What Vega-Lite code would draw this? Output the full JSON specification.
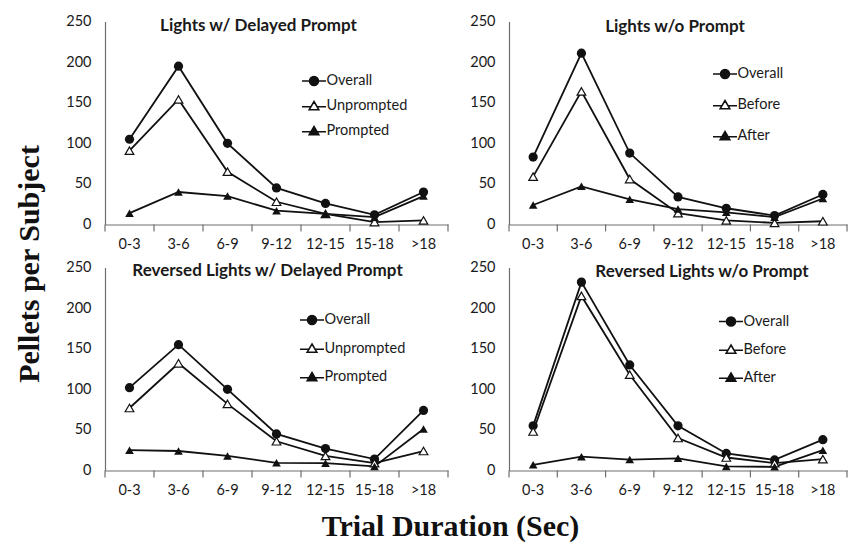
{
  "$schema": "https://vega.github.io/schema/vega-lite/v6.json",
  "padding": {"left": 14, "top": 13.5, "right": 0, "bottom": 0},
  "background": "white",
  "config": {
    "font": "Lato",
    "view": {"stroke": null},
    "title": {"font": "Lato", "fontSize": 17, "fontWeight": "bold", "anchor": "middle", "offset": 0, "baseline": "middle", "color": "#1a1a1a", "frame": "group"},
    "axis": {"labelFont": "Lato", "labelFontSize": 14.5, "labelColor": "#1a1a1a", "domainColor": "#6e6e6e", "tickColor": "#6e6e6e", "grid": false, "domainWidth": 1.2},
    "axisX": {"ticks": false, "labelAngle": 0, "labelPadding": 13},
    "axisY": {"ticks": false, "labelPadding": 14, "values": [0, 50, 100, 150, 200, 250]},
    "legend": {"labelFont": "Lato", "labelFontSize": 14.5, "labelColor": "#1a1a1a"}
  },
  "spacing": {"column": 61, "row": 43},
  "bounds": "flush",
  "data": {"name": "d"},
  "datasets": {
    "d": [
      {"panel": "TL", "series": "Overall", "dur": "0-3", "value": 105},
      {"panel": "TL", "series": "Overall", "dur": "3-6", "value": 195},
      {"panel": "TL", "series": "Overall", "dur": "6-9", "value": 100},
      {"panel": "TL", "series": "Overall", "dur": "9-12", "value": 45},
      {"panel": "TL", "series": "Overall", "dur": "12-15", "value": 26},
      {"panel": "TL", "series": "Overall", "dur": "15-18", "value": 12},
      {"panel": "TL", "series": "Overall", "dur": ">18", "value": 40},
      {"panel": "TL", "series": "Unprompted", "dur": "0-3", "value": 91},
      {"panel": "TL", "series": "Unprompted", "dur": "3-6", "value": 154},
      {"panel": "TL", "series": "Unprompted", "dur": "6-9", "value": 65},
      {"panel": "TL", "series": "Unprompted", "dur": "9-12", "value": 28},
      {"panel": "TL", "series": "Unprompted", "dur": "12-15", "value": 13},
      {"panel": "TL", "series": "Unprompted", "dur": "15-18", "value": 3},
      {"panel": "TL", "series": "Unprompted", "dur": ">18", "value": 5},
      {"panel": "TL", "series": "Prompted", "dur": "0-3", "value": 14},
      {"panel": "TL", "series": "Prompted", "dur": "3-6", "value": 40},
      {"panel": "TL", "series": "Prompted", "dur": "6-9", "value": 35},
      {"panel": "TL", "series": "Prompted", "dur": "9-12", "value": 17},
      {"panel": "TL", "series": "Prompted", "dur": "12-15", "value": 13},
      {"panel": "TL", "series": "Prompted", "dur": "15-18", "value": 9},
      {"panel": "TL", "series": "Prompted", "dur": ">18", "value": 35},
      {"panel": "TR", "series": "Overall", "dur": "0-3", "value": 83},
      {"panel": "TR", "series": "Overall", "dur": "3-6", "value": 211},
      {"panel": "TR", "series": "Overall", "dur": "6-9", "value": 88},
      {"panel": "TR", "series": "Overall", "dur": "9-12", "value": 34},
      {"panel": "TR", "series": "Overall", "dur": "12-15", "value": 20},
      {"panel": "TR", "series": "Overall", "dur": "15-18", "value": 11},
      {"panel": "TR", "series": "Overall", "dur": ">18", "value": 37},
      {"panel": "TR", "series": "Before", "dur": "0-3", "value": 59},
      {"panel": "TR", "series": "Before", "dur": "3-6", "value": 164},
      {"panel": "TR", "series": "Before", "dur": "6-9", "value": 56},
      {"panel": "TR", "series": "Before", "dur": "9-12", "value": 14},
      {"panel": "TR", "series": "Before", "dur": "12-15", "value": 5},
      {"panel": "TR", "series": "Before", "dur": "15-18", "value": 2},
      {"panel": "TR", "series": "Before", "dur": ">18", "value": 4},
      {"panel": "TR", "series": "After", "dur": "0-3", "value": 24},
      {"panel": "TR", "series": "After", "dur": "3-6", "value": 47},
      {"panel": "TR", "series": "After", "dur": "6-9", "value": 31},
      {"panel": "TR", "series": "After", "dur": "9-12", "value": 19},
      {"panel": "TR", "series": "After", "dur": "12-15", "value": 15},
      {"panel": "TR", "series": "After", "dur": "15-18", "value": 9},
      {"panel": "TR", "series": "After", "dur": ">18", "value": 32},
      {"panel": "BL", "series": "Overall", "dur": "0-3", "value": 102},
      {"panel": "BL", "series": "Overall", "dur": "3-6", "value": 155},
      {"panel": "BL", "series": "Overall", "dur": "6-9", "value": 100},
      {"panel": "BL", "series": "Overall", "dur": "9-12", "value": 45},
      {"panel": "BL", "series": "Overall", "dur": "12-15", "value": 27},
      {"panel": "BL", "series": "Overall", "dur": "15-18", "value": 14},
      {"panel": "BL", "series": "Overall", "dur": ">18", "value": 74},
      {"panel": "BL", "series": "Unprompted", "dur": "0-3", "value": 77},
      {"panel": "BL", "series": "Unprompted", "dur": "3-6", "value": 132},
      {"panel": "BL", "series": "Unprompted", "dur": "6-9", "value": 82},
      {"panel": "BL", "series": "Unprompted", "dur": "9-12", "value": 36},
      {"panel": "BL", "series": "Unprompted", "dur": "12-15", "value": 18},
      {"panel": "BL", "series": "Unprompted", "dur": "15-18", "value": 9},
      {"panel": "BL", "series": "Unprompted", "dur": ">18", "value": 24},
      {"panel": "BL", "series": "Prompted", "dur": "0-3", "value": 25},
      {"panel": "BL", "series": "Prompted", "dur": "3-6", "value": 24},
      {"panel": "BL", "series": "Prompted", "dur": "6-9", "value": 18},
      {"panel": "BL", "series": "Prompted", "dur": "9-12", "value": 9.5},
      {"panel": "BL", "series": "Prompted", "dur": "12-15", "value": 9},
      {"panel": "BL", "series": "Prompted", "dur": "15-18", "value": 5},
      {"panel": "BL", "series": "Prompted", "dur": ">18", "value": 51},
      {"panel": "BR", "series": "Overall", "dur": "0-3", "value": 55},
      {"panel": "BR", "series": "Overall", "dur": "3-6", "value": 232},
      {"panel": "BR", "series": "Overall", "dur": "6-9", "value": 130},
      {"panel": "BR", "series": "Overall", "dur": "9-12", "value": 55},
      {"panel": "BR", "series": "Overall", "dur": "12-15", "value": 21},
      {"panel": "BR", "series": "Overall", "dur": "15-18", "value": 13},
      {"panel": "BR", "series": "Overall", "dur": ">18", "value": 38},
      {"panel": "BR", "series": "Before", "dur": "0-3", "value": 48},
      {"panel": "BR", "series": "Before", "dur": "3-6", "value": 215},
      {"panel": "BR", "series": "Before", "dur": "6-9", "value": 118},
      {"panel": "BR", "series": "Before", "dur": "9-12", "value": 40},
      {"panel": "BR", "series": "Before", "dur": "12-15", "value": 16},
      {"panel": "BR", "series": "Before", "dur": "15-18", "value": 9},
      {"panel": "BR", "series": "Before", "dur": ">18", "value": 14},
      {"panel": "BR", "series": "After", "dur": "0-3", "value": 7},
      {"panel": "BR", "series": "After", "dur": "3-6", "value": 17},
      {"panel": "BR", "series": "After", "dur": "6-9", "value": 13.5},
      {"panel": "BR", "series": "After", "dur": "9-12", "value": 15},
      {"panel": "BR", "series": "After", "dur": "12-15", "value": 5},
      {"panel": "BR", "series": "After", "dur": "15-18", "value": 4.5},
      {"panel": "BR", "series": "After", "dur": ">18", "value": 25}
    ]
  },
  "columns": 2,
  "resolve": {
    "scale": {"shape": "independent", "fill": "independent", "stroke": "independent"},
    "legend": {"shape": "independent", "fill": "independent", "stroke": "independent"}
  },
  "concat": [
    {
      "width": 343, "height": 203,
      "title": {"text": "Lights w/ Delayed Prompt", "dx": -18, "dy": 25.5},
      "transform": [{"filter": "datum.panel === 'TL'"}],
      "encoding": {
        "x": {"field": "dur", "type": "ordinal", "sort": ["0-3", "3-6", "6-9", "9-12", "12-15", "15-18", ">18"], "scale": {"type": "band", "paddingInner": 0, "paddingOuter": 0}, "axis": {"title": null}},
        "y": {"field": "value", "type": "quantitative", "scale": {"domain": [0, 250], "nice": false}, "axis": {"title": "Pellets per Subject", "titleFont": "Liberation Serif", "titleFontSize": 30, "titleFontWeight": "bold", "titleColor": "#111", "titleAngle": -90, "titleAlign": "center", "titleBaseline": "middle", "titleX": -76, "titleY": 242}}
      },
      "layer": [
        {"transform": [{"filter": "datum.series === 'Overall'"}], "mark": {"type": "rule", "color": "#6e6e6e", "strokeWidth": 1.2}, "encoding": {"x": {"field": "dur", "type": "ordinal", "sort": ["0-3", "3-6", "6-9", "9-12", "12-15", "15-18", ">18"], "bandPosition": 0}, "y": {"datum": 0}, "y2": {"datum": -8.5}}},
        {"transform": [{"filter": "datum.series === 'Overall' && datum.dur === '>18'"}], "mark": {"type": "rule", "color": "#6e6e6e", "strokeWidth": 1.2}, "encoding": {"x": {"field": "dur", "type": "ordinal", "sort": ["0-3", "3-6", "6-9", "9-12", "12-15", "15-18", ">18"], "bandPosition": 1}, "y": {"datum": 0}, "y2": {"datum": -8.5}}},
        {"mark": {"type": "line", "color": "#111", "strokeWidth": 1.8}, "encoding": {"detail": {"field": "series"}}},
        {"transform": [{"filter": "datum.series === 'Overall'"}], "mark": {"type": "point", "shape": "circle", "filled": true, "color": "#111", "size": 85, "opacity": 1}},
        {"transform": [{"filter": "datum.series === 'Unprompted' || datum.series === 'Before'"}], "mark": {"type": "point", "shape": "triangle-up", "fill": "white", "stroke": "#111", "strokeWidth": 1.2, "size": 75, "opacity": 1}},
        {"transform": [{"filter": "datum.series === 'Prompted' || datum.series === 'After'"}], "mark": {"type": "point", "shape": "triangle-up", "filled": true, "color": "#111", "size": 75, "opacity": 1}},
        {"mark": {"type": "point", "opacity": 0, "filled": false, "strokeWidth": 1.5},
         "encoding": {
           "shape": {"field": "series", "type": "nominal", "scale": {"domain": ["Overall", "Unprompted", "Prompted"], "range": ["M-1.6,0H-0.6M0.6,0H1.6M0.6,0A0.6,0.6,0,1,1,-0.6,0A0.6,0.6,0,1,1,0.6,0Z", "M-1.6,0.1H-0.41M0.41,0.1H1.6M0,-0.6L0.65,0.5L-0.65,0.5Z", "M-1.6,0.1H-0.41M0.41,0.1H1.6M0,-0.6L0.65,0.5L-0.65,0.5Z"]}, "legend": {"orient": "none", "legendX": 200.5, "legendY": 51, "title": null, "symbolSize": 225, "symbolStrokeWidth": 1.5, "symbolOpacity": 1, "labelOffset": 4, "rowPadding": 9, "padding": 0}},
           "fill": {"field": "series", "type": "nominal", "scale": {"domain": ["Overall", "Unprompted", "Prompted"], "range": ["#111", "white", "#111"]}, "legend": {"orient": "none", "legendX": 200.5, "legendY": 51, "title": null, "symbolSize": 225, "symbolStrokeWidth": 1.5, "symbolOpacity": 1, "labelOffset": 4, "rowPadding": 9, "padding": 0}},
           "stroke": {"field": "series", "type": "nominal", "scale": {"domain": ["Overall", "Unprompted", "Prompted"], "range": ["#111", "#111", "#111"]}, "legend": {"orient": "none", "legendX": 200.5, "legendY": 51, "title": null, "symbolSize": 225, "symbolStrokeWidth": 1.5, "symbolOpacity": 1, "labelOffset": 4, "rowPadding": 9, "padding": 0}}
         }}
      ]
    },
    {
      "width": 338, "height": 203,
      "title": {"text": "Lights w/o Prompt", "dx": -3, "dy": 26.5},
      "transform": [{"filter": "datum.panel === 'TR'"}],
      "encoding": {
        "x": {"field": "dur", "type": "ordinal", "sort": ["0-3", "3-6", "6-9", "9-12", "12-15", "15-18", ">18"], "scale": {"type": "band", "paddingInner": 0, "paddingOuter": 0}, "axis": {"title": null}},
        "y": {"field": "value", "type": "quantitative", "scale": {"domain": [0, 250], "nice": false}, "axis": {"title": null}}
      },
      "layer": [
        {"transform": [{"filter": "datum.series === 'Overall'"}], "mark": {"type": "rule", "color": "#6e6e6e", "strokeWidth": 1.2}, "encoding": {"x": {"field": "dur", "type": "ordinal", "sort": ["0-3", "3-6", "6-9", "9-12", "12-15", "15-18", ">18"], "bandPosition": 0}, "y": {"datum": 0}, "y2": {"datum": -8.5}}},
        {"transform": [{"filter": "datum.series === 'Overall' && datum.dur === '>18'"}], "mark": {"type": "rule", "color": "#6e6e6e", "strokeWidth": 1.2}, "encoding": {"x": {"field": "dur", "type": "ordinal", "sort": ["0-3", "3-6", "6-9", "9-12", "12-15", "15-18", ">18"], "bandPosition": 1}, "y": {"datum": 0}, "y2": {"datum": -8.5}}},
        {"mark": {"type": "line", "color": "#111", "strokeWidth": 1.8}, "encoding": {"detail": {"field": "series"}}},
        {"transform": [{"filter": "datum.series === 'Overall'"}], "mark": {"type": "point", "shape": "circle", "filled": true, "color": "#111", "size": 85, "opacity": 1}},
        {"transform": [{"filter": "datum.series === 'Unprompted' || datum.series === 'Before'"}], "mark": {"type": "point", "shape": "triangle-up", "fill": "white", "stroke": "#111", "strokeWidth": 1.2, "size": 75, "opacity": 1}},
        {"transform": [{"filter": "datum.series === 'Prompted' || datum.series === 'After'"}], "mark": {"type": "point", "shape": "triangle-up", "filled": true, "color": "#111", "size": 75, "opacity": 1}},
        {"mark": {"type": "point", "opacity": 0, "filled": false, "strokeWidth": 1.5},
         "encoding": {
           "shape": {"field": "series", "type": "nominal", "scale": {"domain": ["Overall", "Before", "After"], "range": ["M-1.6,0H-0.6M0.6,0H1.6M0.6,0A0.6,0.6,0,1,1,-0.6,0A0.6,0.6,0,1,1,0.6,0Z", "M-1.6,0.1H-0.41M0.41,0.1H1.6M0,-0.6L0.65,0.5L-0.65,0.5Z", "M-1.6,0.1H-0.41M0.41,0.1H1.6M0,-0.6L0.65,0.5L-0.65,0.5Z"]}, "legend": {"orient": "none", "legendX": 207.5, "legendY": 44, "title": null, "symbolSize": 225, "symbolStrokeWidth": 1.5, "symbolOpacity": 1, "labelOffset": 4, "rowPadding": 15, "padding": 0}},
           "fill": {"field": "series", "type": "nominal", "scale": {"domain": ["Overall", "Before", "After"], "range": ["#111", "white", "#111"]}, "legend": {"orient": "none", "legendX": 207.5, "legendY": 44, "title": null, "symbolSize": 225, "symbolStrokeWidth": 1.5, "symbolOpacity": 1, "labelOffset": 4, "rowPadding": 15, "padding": 0}},
           "stroke": {"field": "series", "type": "nominal", "scale": {"domain": ["Overall", "Before", "After"], "range": ["#111", "#111", "#111"]}, "legend": {"orient": "none", "legendX": 207.5, "legendY": 44, "title": null, "symbolSize": 225, "symbolStrokeWidth": 1.5, "symbolOpacity": 1, "labelOffset": 4, "rowPadding": 15, "padding": 0}}
         }}
      ]
    },
    {
      "width": 343, "height": 203,
      "title": {"text": "Reversed Lights w/ Delayed Prompt", "dx": -9, "dy": 24},
      "transform": [{"filter": "datum.panel === 'BL'"}],
      "encoding": {
        "x": {"field": "dur", "type": "ordinal", "sort": ["0-3", "3-6", "6-9", "9-12", "12-15", "15-18", ">18"], "scale": {"type": "band", "paddingInner": 0, "paddingOuter": 0}, "axis": {"title": "Trial Duration (Sec)", "titleFont": "Liberation Serif", "titleFontSize": 30, "titleFontWeight": "bold", "titleColor": "#111", "titleAlign": "center", "titleBaseline": "middle", "titleX": 345, "titleY": 56}},
        "y": {"field": "value", "type": "quantitative", "scale": {"domain": [0, 250], "nice": false}, "axis": {"title": null}}
      },
      "layer": [
        {"transform": [{"filter": "datum.series === 'Overall'"}], "mark": {"type": "rule", "color": "#6e6e6e", "strokeWidth": 1.2}, "encoding": {"x": {"field": "dur", "type": "ordinal", "sort": ["0-3", "3-6", "6-9", "9-12", "12-15", "15-18", ">18"], "bandPosition": 0}, "y": {"datum": 0}, "y2": {"datum": -8.5}}},
        {"transform": [{"filter": "datum.series === 'Overall' && datum.dur === '>18'"}], "mark": {"type": "rule", "color": "#6e6e6e", "strokeWidth": 1.2}, "encoding": {"x": {"field": "dur", "type": "ordinal", "sort": ["0-3", "3-6", "6-9", "9-12", "12-15", "15-18", ">18"], "bandPosition": 1}, "y": {"datum": 0}, "y2": {"datum": -8.5}}},
        {"mark": {"type": "line", "color": "#111", "strokeWidth": 1.8}, "encoding": {"detail": {"field": "series"}}},
        {"transform": [{"filter": "datum.series === 'Overall'"}], "mark": {"type": "point", "shape": "circle", "filled": true, "color": "#111", "size": 85, "opacity": 1}},
        {"transform": [{"filter": "datum.series === 'Unprompted' || datum.series === 'Before'"}], "mark": {"type": "point", "shape": "triangle-up", "fill": "white", "stroke": "#111", "strokeWidth": 1.2, "size": 75, "opacity": 1}},
        {"transform": [{"filter": "datum.series === 'Prompted' || datum.series === 'After'"}], "mark": {"type": "point", "shape": "triangle-up", "filled": true, "color": "#111", "size": 75, "opacity": 1}},
        {"mark": {"type": "point", "opacity": 0, "filled": false, "strokeWidth": 1.5},
         "encoding": {
           "shape": {"field": "series", "type": "nominal", "scale": {"domain": ["Overall", "Unprompted", "Prompted"], "range": ["M-1.6,0H-0.6M0.6,0H1.6M0.6,0A0.6,0.6,0,1,1,-0.6,0A0.6,0.6,0,1,1,0.6,0Z", "M-1.6,0.1H-0.41M0.41,0.1H1.6M0,-0.6L0.65,0.5L-0.65,0.5Z", "M-1.6,0.1H-0.41M0.41,0.1H1.6M0,-0.6L0.65,0.5L-0.65,0.5Z"]}, "legend": {"orient": "none", "legendX": 198.5, "legendY": 44, "title": null, "symbolSize": 225, "symbolStrokeWidth": 1.5, "symbolOpacity": 1, "labelOffset": 4, "rowPadding": 12.5, "padding": 0}},
           "fill": {"field": "series", "type": "nominal", "scale": {"domain": ["Overall", "Unprompted", "Prompted"], "range": ["#111", "white", "#111"]}, "legend": {"orient": "none", "legendX": 198.5, "legendY": 44, "title": null, "symbolSize": 225, "symbolStrokeWidth": 1.5, "symbolOpacity": 1, "labelOffset": 4, "rowPadding": 12.5, "padding": 0}},
           "stroke": {"field": "series", "type": "nominal", "scale": {"domain": ["Overall", "Unprompted", "Prompted"], "range": ["#111", "#111", "#111"]}, "legend": {"orient": "none", "legendX": 198.5, "legendY": 44, "title": null, "symbolSize": 225, "symbolStrokeWidth": 1.5, "symbolOpacity": 1, "labelOffset": 4, "rowPadding": 12.5, "padding": 0}}
         }}
      ]
    },
    {
      "width": 338, "height": 203,
      "title": {"text": "Reversed Lights  w/o Prompt", "dx": 24, "dy": 25},
      "transform": [{"filter": "datum.panel === 'BR'"}],
      "encoding": {
        "x": {"field": "dur", "type": "ordinal", "sort": ["0-3", "3-6", "6-9", "9-12", "12-15", "15-18", ">18"], "scale": {"type": "band", "paddingInner": 0, "paddingOuter": 0}, "axis": {"title": null}},
        "y": {"field": "value", "type": "quantitative", "scale": {"domain": [0, 250], "nice": false}, "axis": {"title": null}}
      },
      "layer": [
        {"transform": [{"filter": "datum.series === 'Overall'"}], "mark": {"type": "rule", "color": "#6e6e6e", "strokeWidth": 1.2}, "encoding": {"x": {"field": "dur", "type": "ordinal", "sort": ["0-3", "3-6", "6-9", "9-12", "12-15", "15-18", ">18"], "bandPosition": 0}, "y": {"datum": 0}, "y2": {"datum": -8.5}}},
        {"transform": [{"filter": "datum.series === 'Overall' && datum.dur === '>18'"}], "mark": {"type": "rule", "color": "#6e6e6e", "strokeWidth": 1.2}, "encoding": {"x": {"field": "dur", "type": "ordinal", "sort": ["0-3", "3-6", "6-9", "9-12", "12-15", "15-18", ">18"], "bandPosition": 1}, "y": {"datum": 0}, "y2": {"datum": -8.5}}},
        {"mark": {"type": "line", "color": "#111", "strokeWidth": 1.8}, "encoding": {"detail": {"field": "series"}}},
        {"transform": [{"filter": "datum.series === 'Overall'"}], "mark": {"type": "point", "shape": "circle", "filled": true, "color": "#111", "size": 85, "opacity": 1}},
        {"transform": [{"filter": "datum.series === 'Unprompted' || datum.series === 'Before'"}], "mark": {"type": "point", "shape": "triangle-up", "fill": "white", "stroke": "#111", "strokeWidth": 1.2, "size": 75, "opacity": 1}},
        {"transform": [{"filter": "datum.series === 'Prompted' || datum.series === 'After'"}], "mark": {"type": "point", "shape": "triangle-up", "filled": true, "color": "#111", "size": 75, "opacity": 1}},
        {"mark": {"type": "point", "opacity": 0, "filled": false, "strokeWidth": 1.5},
         "encoding": {
           "shape": {"field": "series", "type": "nominal", "scale": {"domain": ["Overall", "Before", "After"], "range": ["M-1.6,0H-0.6M0.6,0H1.6M0.6,0A0.6,0.6,0,1,1,-0.6,0A0.6,0.6,0,1,1,0.6,0Z", "M-1.6,0.1H-0.41M0.41,0.1H1.6M0,-0.6L0.65,0.5L-0.65,0.5Z", "M-1.6,0.1H-0.41M0.41,0.1H1.6M0,-0.6L0.65,0.5L-0.65,0.5Z"]}, "legend": {"orient": "none", "legendX": 213.5, "legendY": 45.5, "title": null, "symbolSize": 225, "symbolStrokeWidth": 1.5, "symbolOpacity": 1, "labelOffset": 4, "rowPadding": 12, "padding": 0}},
           "fill": {"field": "series", "type": "nominal", "scale": {"domain": ["Overall", "Before", "After"], "range": ["#111", "white", "#111"]}, "legend": {"orient": "none", "legendX": 213.5, "legendY": 45.5, "title": null, "symbolSize": 225, "symbolStrokeWidth": 1.5, "symbolOpacity": 1, "labelOffset": 4, "rowPadding": 12, "padding": 0}},
           "stroke": {"field": "series", "type": "nominal", "scale": {"domain": ["Overall", "Before", "After"], "range": ["#111", "#111", "#111"]}, "legend": {"orient": "none", "legendX": 213.5, "legendY": 45.5, "title": null, "symbolSize": 225, "symbolStrokeWidth": 1.5, "symbolOpacity": 1, "labelOffset": 4, "rowPadding": 12, "padding": 0}}
         }}
      ]
    }
  ]
}
